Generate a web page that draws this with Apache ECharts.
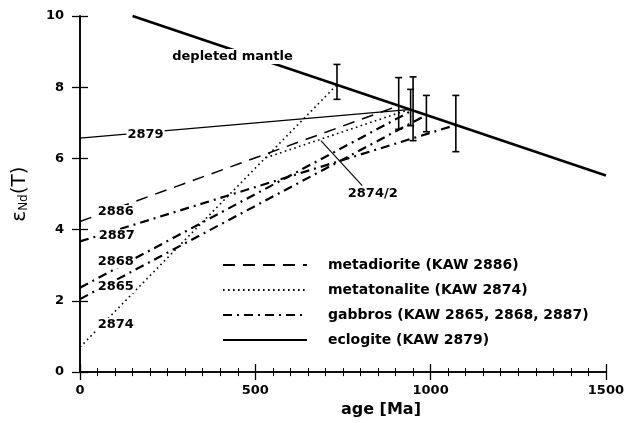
<!DOCTYPE html>
<html>
<head>
<meta charset="utf-8">
<script src="https://cdn.jsdelivr.net/npm/echarts@6/dist/echarts.min.js"></script>
<style>
html,body{margin:0;padding:0;background:#fff;}
#chart{width:627px;height:423px;}
</style>
</head>
<body>
<div id="chart"></div>
<script>
// ---- data (age in Ma, epsilon Nd) ----
const ageRange = [0, 1500];
const epsRange = [0, 10];
const depletedMantle = [[150, 10.0], [1500, 5.52]];
const metadiorite2886 = [[0, 4.23], [909, 7.48]];
const metatonalite2874 = [[0, 0.70], [733, 8.07]];
const metatonalite2874b = [[530, 6.02], [940, 7.38]];
const gabbro2887 = [[0, 3.67], [1072, 6.94]];
const gabbro2868 = [[0, 2.37], [948, 7.35]];
const gabbro2865 = [[0, 2.05], [988, 7.22]];
const eclogite2879 = [[0, 6.57], [945, 7.38]];
// [age, low, high]
const errorBars = [[733, 7.66, 8.64], [909, 6.82, 8.27], [943, 6.92, 7.94], [950, 6.50, 8.29], [988, 6.75, 7.77], [1072, 6.19, 7.77]];
// [age, eps, text]
const sampleLabels = [[187, 6.68, '2879'], [102, 4.51, '2886'], [105, 3.82, '2887'], [102, 3.09, '2868'], [102, 2.40, '2865'], [102, 1.34, '2874'], [835, 5.01, '2874/2']];
const mantleLabel = [[435, 8.86, 'depleted mantle']];
const leader2874b = [[687, 6.50], [805, 5.24]];
const legendNames = ['metadiorite (KAW 2886)', 'metatonalite (KAW 2874)', 'gabbros (KAW 2865, 2868, 2887)', 'eclogite (KAW 2879)'];

const FONT = 'DejaVu Sans';
const chart = echarts.init(document.getElementById('chart'), null, {renderer: 'canvas'});

function lineSeries(name, data, type, width) {
  return {
    name: name, type: 'line', data: data, symbol: 'none', animation: false, z: 3,
    itemStyle: {color: '#000'},
    lineStyle: {color: '#000', width: width, type: type, cap: 'butt'},
    emphasis: {disabled: true}
  };
}

const dash = [12, 8];
const dot = [1.6, 3.4];
const dashDot = [9, 5, 2, 5];

const option = {
  backgroundColor: '#fff',
  animation: false,
  grid: {left: 80, right: 19, top: 16, bottom: 48},
  legend: {
    data: legendNames,
    orient: 'vertical',
    left: 217, top: 253,
    itemWidth: 84, itemHeight: 12, itemGap: 11,
    selectedMode: false,
    itemStyle: {opacity: 0},
    textStyle: {fontFamily: FONT, fontSize: 14, fontWeight: 'bold', color: '#000', padding: [0, 0, 0, 16]}
  },
  xAxis: [{
    type: 'value', min: 0, max: 1500, interval: 500,
    name: 'age [Ma]', nameLocation: 'middle', nameGap: 22,
    nameTextStyle: {fontFamily: FONT, fontSize: 16, fontWeight: 'bold', color: '#000', padding: [0, 0, 0, 76]},
    axisLine: {show: true, lineStyle: {color: '#000', width: 1.6}},
    axisTick: {show: true, inside: true, length: 8, lineStyle: {color: '#000', width: 1.3}},
    minorTick: {show: true, splitNumber: 10, length: 4, lineStyle: {color: '#000', width: 1}},
    axisLabel: {fontFamily: FONT, fontSize: 13, fontWeight: 'bold', color: '#000', margin: 12, formatter: v => String(v)},
    splitLine: {show: false}
  }, {
    type: 'value', min: 0, max: 1500, interval: 500, position: 'top',
    axisLine: {show: true, lineStyle: {color: '#000', width: 1.6}},
    axisTick: {show: true, inside: true, length: 8, lineStyle: {color: '#000', width: 1.3}},
    minorTick: {show: true, splitNumber: 10, length: 4, lineStyle: {color: '#000', width: 1}},
    axisLabel: {show: false},
    splitLine: {show: false}
  }],
  yAxis: [{
    type: 'value', min: 0, max: 10, interval: 2,
    name: 'ε{sub|Nd}(T)', nameLocation: 'middle', nameGap: 50, nameRotate: 90,
    nameTextStyle: {fontFamily: FONT, fontSize: 20, color: '#000',
      rich: {sub: {fontFamily: FONT, fontSize: 12, color: '#000', verticalAlign: 'bottom', padding: [9, 0, 0, 0]}}},
    axisLine: {show: true, lineStyle: {color: '#000', width: 1.6}},
    axisTick: {show: true, inside: true, length: 8, lineStyle: {color: '#000', width: 1.3}},
    axisLabel: {fontFamily: FONT, fontSize: 13, fontWeight: 'bold', color: '#000', margin: 16},
    splitLine: {show: false}
  }, {
    type: 'value', min: 0, max: 10, interval: 2, position: 'right',
    axisLine: {show: true, lineStyle: {color: '#000', width: 1.6}},
    axisTick: {show: true, inside: true, length: 8, lineStyle: {color: '#000', width: 1.3}},
    axisLabel: {show: false},
    splitLine: {show: false}
  }],
  series: [
    lineSeries('depleted mantle', depletedMantle, 'solid', 2.6),
    lineSeries(legendNames[0], metadiorite2886, dash, 1.5),
    lineSeries(legendNames[1], metatonalite2874, dot, 1.6),
    lineSeries(legendNames[1], metatonalite2874b, dot, 1.6),
    lineSeries(legendNames[2], gabbro2887, dashDot, 2.2),
    lineSeries(legendNames[2], gabbro2868, dashDot, 2.2),
    lineSeries(legendNames[2], gabbro2865, dashDot, 2.2),
    lineSeries(legendNames[3], eclogite2879, 'solid', 1.3),
    lineSeries('leader', leader2874b, 'solid', 1.1),
    {
      name: 'error', type: 'custom', data: errorBars, z: 4, animation: false,
      encode: {x: 0, y: [1, 2]},
      renderItem: function (params, api) {
        const x = api.value(0);
        const top = api.coord([x, api.value(2)]);
        const bot = api.coord([x, api.value(1)]);
        const w = 3.5;
        const st = {stroke: '#000', lineWidth: 1.6};
        return {type: 'group', children: [
          {type: 'line', shape: {x1: top[0], y1: top[1], x2: bot[0], y2: bot[1]}, style: st},
          {type: 'line', shape: {x1: top[0] - w, y1: top[1], x2: top[0] + w, y2: top[1]}, style: st},
          {type: 'line', shape: {x1: bot[0] - w, y1: bot[1], x2: bot[0] + w, y2: bot[1]}, style: st}
        ]};
      }
    },
    {
      name: 'sampleLabels', type: 'scatter', data: sampleLabels, symbolSize: 0, z: 10, animation: false,
      silent: true, itemStyle: {opacity: 1},
      label: {show: true, position: 'inside', formatter: p => p.data[2], opacity: 1,
        fontFamily: FONT, fontSize: 13, fontWeight: 'bold', color: '#000', backgroundColor: '#fff', padding: [0, 1]}
    },
    {
      name: 'mantleLabel', type: 'scatter', data: mantleLabel, symbolSize: 0, z: 10, animation: false,
      silent: true, itemStyle: {opacity: 1},
      label: {show: true, position: 'inside', formatter: p => p.data[2], opacity: 1,
        fontFamily: FONT, fontSize: 13, fontWeight: 'bold', color: '#000', backgroundColor: '#fff', padding: [1, 2]}
    }
  ]
};
chart.setOption(option);
</script>
</body>
</html>
